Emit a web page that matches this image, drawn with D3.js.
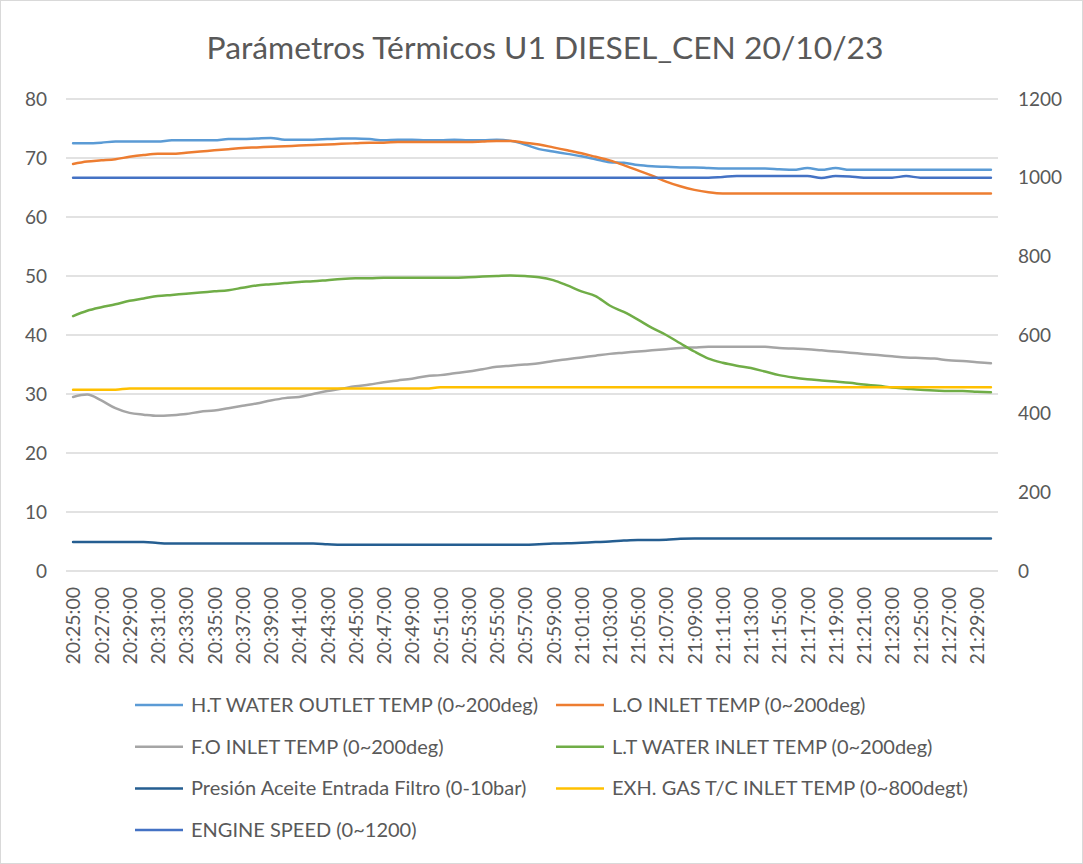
<!DOCTYPE html>
<html>
<head>
<meta charset="utf-8">
<script src="https://cdn.jsdelivr.net/npm/d3@7"></script>
<style>
  body { margin: 0; background: #fff; }
  svg { display: block; font-family: Lato, "Liberation Sans", sans-serif; }
</style>
</head>
<body>
<div id="chart"></div>
<script>
// Categorias (hora de muestreo, cada minuto)
const times = [
  "20:25:00","20:26:00","20:27:00","20:28:00","20:29:00","20:30:00","20:31:00","20:32:00","20:33:00","20:34:00",
  "20:35:00","20:36:00","20:37:00","20:38:00","20:39:00","20:40:00","20:41:00","20:42:00","20:43:00","20:44:00",
  "20:45:00","20:46:00","20:47:00","20:48:00","20:49:00","20:50:00","20:51:00","20:52:00","20:53:00","20:54:00",
  "20:55:00","20:56:00","20:57:00","20:58:00","20:59:00","21:00:00","21:01:00","21:02:00","21:03:00","21:04:00",
  "21:05:00","21:06:00","21:07:00","21:08:00","21:09:00","21:10:00","21:11:00","21:12:00","21:13:00","21:14:00",
  "21:15:00","21:16:00","21:17:00","21:18:00","21:19:00","21:20:00","21:21:00","21:22:00","21:23:00","21:24:00",
  "21:25:00","21:26:00","21:27:00","21:28:00","21:29:00","21:30:00"
];

// eje primario
const htWater = [
  72.5,72.5,72.6,72.8,72.8,72.8,72.8,73.0,73.0,73.0,
  73.0,73.2,73.2,73.3,73.4,73.1,73.1,73.1,73.2,73.3,
  73.3,73.2,73.0,73.1,73.1,73.0,73.0,73.1,73.0,73.0,
  73.1,72.9,72.3,71.5,71.1,70.7,70.3,69.8,69.3,69.2,
  68.8,68.6,68.5,68.4,68.4,68.3,68.2,68.2,68.2,68.2,
  68.1,68.0,68.3,68.0,68.3,68.0,68.0,68.0,68.0,68.0,
  68.0,68.0,68.0,68.0,68.0,68.0
];
const loInlet = [
  69.0,69.4,69.6,69.8,70.2,70.5,70.7,70.7,70.9,71.1,
  71.3,71.5,71.7,71.8,71.9,72.0,72.1,72.2,72.3,72.4,
  72.5,72.6,72.6,72.7,72.7,72.7,72.7,72.7,72.7,72.8,
  72.9,72.9,72.6,72.3,71.8,71.3,70.8,70.2,69.6,68.8,
  67.9,67.0,66.0,65.2,64.6,64.2,64.0,64.0,64.0,64.0,
  64.0,64.0,64.0,64.0,64.0,64.0,64.0,64.0,64.0,64.0,
  64.0,64.0,64.0,64.0,64.0,64.0
];
const foInlet = [
  29.5,29.9,28.9,27.6,26.8,26.5,26.3,26.4,26.6,27.0,
  27.2,27.6,28.0,28.4,28.9,29.3,29.5,30.0,30.5,30.9,
  31.3,31.6,32.0,32.3,32.6,33.0,33.2,33.5,33.8,34.2,
  34.6,34.8,35.0,35.2,35.6,35.9,36.2,36.5,36.8,37.0,
  37.2,37.4,37.6,37.8,37.9,38.0,38.0,38.0,38.0,38.0,
  37.8,37.7,37.6,37.4,37.2,37.0,36.8,36.6,36.4,36.2,
  36.1,36.0,35.7,35.6,35.4,35.2
];
const ltWater = [
  43.2,44.1,44.7,45.2,45.8,46.2,46.6,46.8,47.0,47.2,
  47.4,47.6,48.0,48.4,48.6,48.8,49.0,49.1,49.3,49.5,
  49.6,49.6,49.7,49.7,49.7,49.7,49.7,49.7,49.8,49.9,
  50.0,50.1,50.0,49.8,49.3,48.4,47.4,46.6,45.0,43.9,
  42.6,41.2,40.0,38.6,37.2,36.0,35.3,34.8,34.4,33.8,
  33.2,32.8,32.5,32.3,32.1,31.9,31.6,31.4,31.1,30.9,
  30.7,30.6,30.5,30.5,30.4,30.3
];
const presionAceite = [
  4.9,4.9,4.9,4.9,4.9,4.9,4.75,4.65,4.65,4.65,
  4.65,4.65,4.65,4.65,4.65,4.65,4.65,4.65,4.55,4.45,
  4.45,4.45,4.45,4.45,4.45,4.45,4.45,4.45,4.45,4.45,
  4.45,4.45,4.45,4.55,4.65,4.7,4.8,4.9,5.0,5.15,
  5.25,5.25,5.3,5.45,5.5,5.5,5.5,5.5,5.5,5.5,
  5.5,5.5,5.5,5.5,5.5,5.5,5.5,5.5,5.5,5.5,
  5.5,5.5,5.5,5.5,5.5,5.5
];
// eje secundario
const exhGas = [
  461,461,461,461,464,464,464,464,464,464,
  464,464,464,464,464,464,464,464,464,464,
  464,464,464,464,464,464,467,467,467,467,
  467,467,467,467,467,467,467,467,467,467,
  467,467,467,467,467,467,467,467,467,467,
  467,467,467,467,467,467,467,467,467,467,
  467,467,467,467,467,467
];
const engineSpeed = [
  1000,1000,1000,1000,1000,1000,1000,1000,1000,1000,
  1000,1000,1000,1000,1000,1000,1000,1000,1000,1000,
  1000,1000,1000,1000,1000,1000,1000,1000,1000,1000,
  1000,1000,1000,1000,1000,1000,1000,1000,1000,1000,
  1000,1000,1000,1000,1000,1000,1002,1004,1004,1004,
  1004,1004,1004,999,1004,1003,1000,1000,1000,1004,
  1000,1000,1000,1000,1000,1000
];

const leftTicks = [0, 10, 20, 30, 40, 50, 60, 70, 80];
const rightTicks = [0, 200, 400, 600, 800, 1000, 1200];

const series = [
  { name: "H.T WATER OUTLET TEMP (0~200deg)", values: htWater, color: "#5B9BD5", axis: "left" },
  { name: "L.O INLET TEMP (0~200deg)", values: loInlet, color: "#ED7D31", axis: "left" },
  { name: "F.O INLET TEMP (0~200deg)", values: foInlet, color: "#A5A5A5", axis: "left" },
  { name: "L.T WATER INLET TEMP (0~200deg)", values: ltWater, color: "#70AD47", axis: "left" },
  { name: "Presión Aceite Entrada Filtro (0-10bar)", values: presionAceite, color: "#255E91", axis: "left" },
  { name: "EXH. GAS T/C INLET TEMP (0~800degt)", values: exhGas, color: "#FFC000", axis: "right" },
  { name: "ENGINE SPEED (0~1200)", values: engineSpeed, color: "#4472C4", axis: "right" }
];

const width = 1083, height = 864;
const plot = { left: 66, right: 998, top: 99, bottom: 571 };

const svg = d3.select("#chart").append("svg")
    .attr("width", width)
    .attr("height", height);

svg.append("rect")
    .attr("x", 0.5).attr("y", 0.5)
    .attr("width", width - 1).attr("height", height - 1)
    .attr("fill", "#fff")
    .attr("stroke", "#d9d9d9");

const x = d3.scalePoint()
    .domain(times)
    .range([plot.left, plot.right])
    .padding(0.5);

const yLeft = d3.scaleLinear().domain([0, 80]).range([plot.bottom, plot.top]);
const yRight = d3.scaleLinear().domain([0, 1200]).range([plot.bottom, plot.top]);

// title
svg.append("text")
    .attr("x", 545)
    .attr("y", 59)
    .attr("text-anchor", "middle")
    .attr("fill", "#595959")
    .style("font-size", "31.8px")
    .text("Parámetros Térmicos U1 DIESEL_CEN 20/10/23");

// gridlines
svg.append("g")
    .selectAll("line")
    .data(leftTicks)
    .join("line")
    .attr("x1", plot.left)
    .attr("x2", plot.right)
    .attr("y1", d => yLeft(d))
    .attr("y2", d => yLeft(d))
    .attr("stroke", "#d9d9d9")
    .attr("stroke-width", 1.5);

// left axis
const gLeft = svg.append("g")
    .attr("transform", `translate(${plot.left},0)`)
    .call(d3.axisLeft(yLeft).tickValues(leftTicks).tickSize(0).tickPadding(19));
gLeft.select(".domain").remove();
gLeft.selectAll("text")
    .attr("fill", "#595959")
    .style("font-family", "Lato, sans-serif")
    .style("font-size", "19px");

// right axis
const gRight = svg.append("g")
    .attr("transform", `translate(${plot.right},0)`)
    .call(d3.axisRight(yRight).tickValues(rightTicks).tickSize(0).tickPadding(20).tickFormat(d3.format("d")));
gRight.select(".domain").remove();
gRight.selectAll("text")
    .attr("fill", "#595959")
    .style("font-family", "Lato, sans-serif")
    .style("font-size", "19px");

// x axis
const gX = svg.append("g")
    .attr("transform", `translate(0,${plot.bottom})`)
    .call(d3.axisBottom(x).tickValues(times.filter((d, i) => i % 2 === 0)).tickSize(0));
gX.select(".domain").remove();
gX.selectAll("text")
    .attr("fill", "#595959")
    .style("font-family", "Lato, sans-serif")
    .style("font-size", "19.5px")
    .attr("text-anchor", "end")
    .attr("dy", "0.35em")
    .attr("transform", "translate(0,16) rotate(-90)")
    .attr("x", 0)
    .attr("y", 0);

// lines
const lineLeft = d3.line()
    .x((d, i) => x(times[i]))
    .y(d => yLeft(d))
    .curve(d3.curveMonotoneX);
const lineRight = d3.line()
    .x((d, i) => x(times[i]))
    .y(d => yRight(d))
    .curve(d3.curveMonotoneX);

svg.append("g")
    .selectAll("path")
    .data(series)
    .join("path")
    .attr("fill", "none")
    .attr("stroke", d => d.color)
    .attr("stroke-width", 2.5)
    .attr("stroke-linejoin", "round")
    .attr("stroke-linecap", "round")
    .attr("d", d => d.axis === "left" ? lineLeft(d.values) : lineRight(d.values));

// legend
const legend = svg.append("g")
    .selectAll("g")
    .data(series)
    .join("g")
    .attr("transform", (d, i) => `translate(${i % 2 === 0 ? 135 : 556},${705 + Math.floor(i / 2) * 41.7})`);

legend.append("line")
    .attr("x1", 0).attr("x2", 48)
    .attr("y1", 0).attr("y2", 0)
    .attr("stroke", d => d.color)
    .attr("stroke-width", 2.5);

legend.append("text")
    .attr("x", 56)
    .attr("y", 0)
    .attr("dy", "0.35em")
    .attr("fill", "#595959")
    .style("font-size", "20px")
    .text(d => d.name);
</script>
</body>
</html>
